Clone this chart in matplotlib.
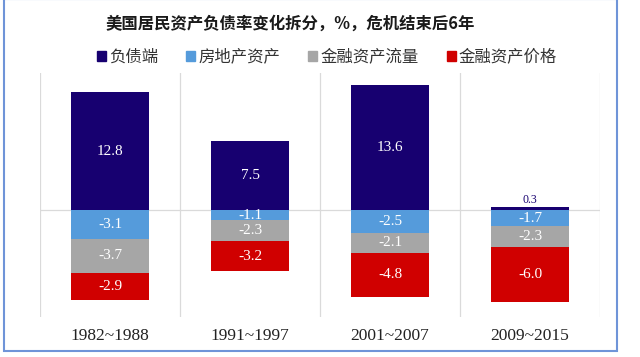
import numpy as np
import matplotlib
matplotlib.use("Agg")
import matplotlib.pyplot as plt
from matplotlib.patches import Rectangle, Patch

plt.rcParams['font.family'] = ['Noto Sans CJK SC', 'DejaVu Sans']

#### data ####
periods = ['1982~1988', '1991~1997', '2001~2007', '2009~2015']
liabilities = [12.8, 7.5, 13.6, 0.3]
housing = [-3.1, -1.1, -2.5, -1.7]
fin_flow = [-3.7, -2.3, -2.1, -2.3]
fin_price = [-2.9, -3.2, -4.8, -6.0]

series_names = ['负债端', '房地产资产', '金融资产流量', '金融资产价格']
series_colors = ['#170070', '#559BDB', '#A6A6A6', '#D00000']
title = '美国居民资产负债率变化拆分，%，危机结束后6年'

fig = plt.figure(figsize=(6.4, 3.57), dpi=100)
ax = fig.add_axes([40/640, 1-317/357, 560/640, 244/357])

x = np.arange(len(periods))
pos_base = np.zeros(len(periods))
neg_base = np.zeros(len(periods))
for vals, name, col in zip([liabilities, housing, fin_flow, fin_price], series_names, series_colors):
    vals = np.array(vals)
    base = np.where(vals >= 0, pos_base, neg_base)
    bars = ax.bar(x, vals, bottom=base, width=0.56, color=col, linewidth=0, label=name, zorder=3)
    for b, v, b0 in zip(bars, vals, base):
        if abs(v) > 0.5:
            ax.text(b.get_x() + b.get_width()/2, b0 + v/2, f'{v:.1f}', ha='center', va='center',
                    color='white', fontsize=11, family='Liberation Serif', zorder=4)
        else:
            # too thin for a label inside: put it just above, in the bar colour
            ax.text(b.get_x() + b.get_width()/2, b0 + v + 0.15, f'{v:.1f}', ha='center', va='bottom',
                    color=col, fontsize=8.5, family='Liberation Serif', zorder=4)
    pos_base = pos_base + np.where(vals >= 0, vals, 0)
    neg_base = neg_base + np.where(vals < 0, vals, 0)

ax.set_xlim(-0.5, len(periods) - 0.5)
ax.set_ylim(-11.6, 14.9)
for xb in np.arange(-0.5, len(periods), 1.0):
    ax.axvline(xb, color='#DADADA', lw=0.9, zorder=1)
ax.axhline(0, color='#DADADA', lw=0.9, zorder=1)
for s in ax.spines.values():
    s.set_visible(False)
ax.set_yticks([])
ax.set_xticks([])
for xi, p in zip(x, periods):
    fig.text((40 + 140*xi + 70)/640, 1-336/357, p, ha='center', va='center',
             fontsize=12.5, family='Liberation Serif', color='#222222')

fig.text(290/640, 1-24/357, title, ha='center', va='center', fontsize=11.8,
         fontweight='bold', color='#1a1a1a')

handles = [Patch(color=c) for c in series_colors]
fig.legend(handles, series_names, loc='center', bbox_to_anchor=(327/640, 1-57/357), ncol=4,
           frameon=False, handlelength=0.55, handleheight=0.55, handletextpad=0.2,
           columnspacing=1.7, fontsize=11.8, labelcolor='#333333')

fig.patches.append(Rectangle((4/640, 1-351/357), 613/640, 352/357, transform=fig.transFigure,
                             fill=False, edgecolor='#6F94D8', lw=1.5))

fig.savefig('out.png', dpi=100)
